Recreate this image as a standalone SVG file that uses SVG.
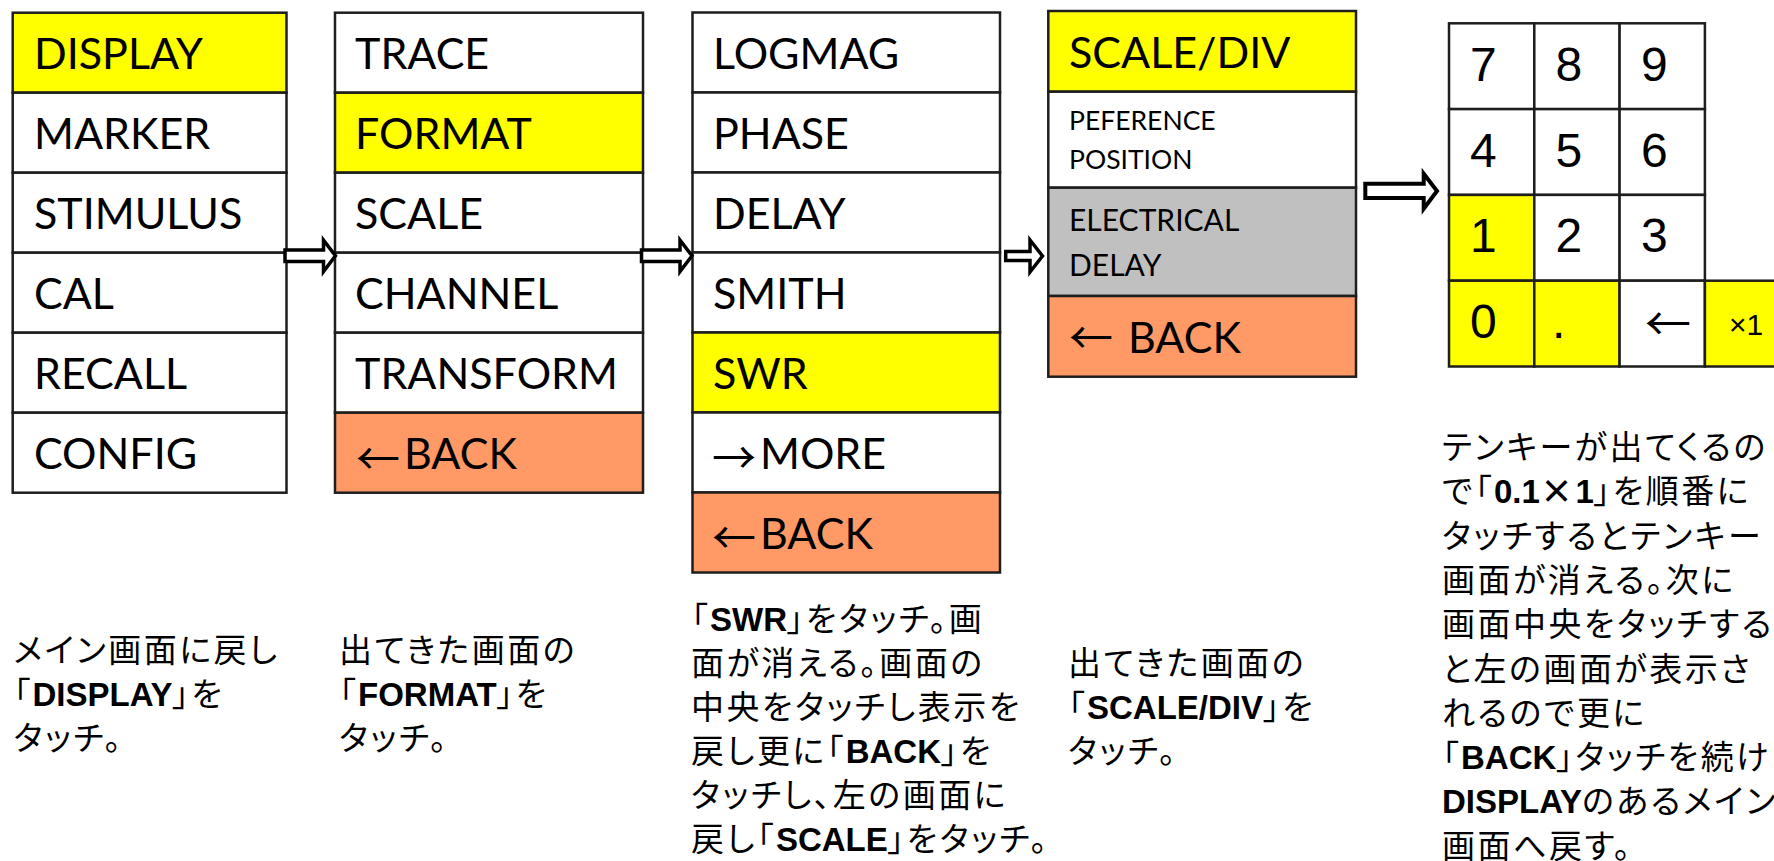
<svg xmlns="http://www.w3.org/2000/svg" width="1774" height="861" viewBox="0 0 1774 861">
<style>
.c{stroke:#1e1e1e;stroke-width:2.5}
.w{fill:#fff}.y{fill:#ffff00}.o{fill:#ff9966}.g{fill:#c0c0c0}
.t{font-family:Lato,"Noto Sans CJK JP",sans-serif;font-size:43px;fill:#000}
.tm{font-size:30px}.ts{font-size:26.5px}
.ar{font-family:"Noto Sans CJK JP",sans-serif;font-size:44px;fill:#000}
.k{font-family:"Liberation Sans",Arial,sans-serif;font-size:48px;fill:#000}
.jp{font-family:"Noto Sans CJK JP",sans-serif;font-size:33px;font-feature-settings:"palt";letter-spacing:2.5px;fill:#000}
.b{font-family:"Liberation Sans",Arial,sans-serif;font-weight:bold;letter-spacing:0}
.arw{fill:#fff;stroke:#000;stroke-width:3.5;stroke-linejoin:miter}
</style>
<rect width="1774" height="861" fill="#fff"/>

<g id="menu-main">
<rect class="c y" x="12.7" y="12.7" width="273.8" height="80"/>
<rect class="c w" x="12.7" y="92.7" width="273.8" height="80"/>
<rect class="c w" x="12.7" y="172.7" width="273.8" height="80"/>
<rect class="c w" x="12.7" y="252.7" width="273.8" height="80"/>
<rect class="c w" x="12.7" y="332.7" width="273.8" height="80"/>
<rect class="c w" x="12.7" y="412.7" width="273.8" height="80"/>
<text class="t" x="34" y="69.3">DISPLAY</text>
<text class="t" x="34" y="149.3">MARKER</text>
<text class="t" x="34" y="229.3">STIMULUS</text>
<text class="t" x="34" y="309.3">CAL</text>
<text class="t" x="34" y="389.3">RECALL</text>
<text class="t" x="34" y="469.3">CONFIG</text>
</g>

<g id="menu-display">
<rect class="c w" x="335" y="12.7" width="308" height="80"/>
<rect class="c y" x="335" y="92.7" width="308" height="80"/>
<rect class="c w" x="335" y="172.7" width="308" height="80"/>
<rect class="c w" x="335" y="252.7" width="308" height="80"/>
<rect class="c w" x="335" y="332.7" width="308" height="80"/>
<rect class="c o" x="335" y="412.7" width="308" height="80"/>
<text class="t" x="355" y="69.3">TRACE</text>
<text class="t" x="355" y="149.3">FORMAT</text>
<text class="t" x="355" y="229.3">SCALE</text>
<text class="t" x="355" y="309.3">CHANNEL</text>
<text class="t" x="355" y="389.3">TRANSFORM</text>
<text class="ar" x="356" y="475">←</text>
<text class="t" x="404" y="469.3">BACK</text>
</g>

<g id="menu-format">
<rect class="c w" x="692.5" y="12.5" width="307.5" height="80"/>
<rect class="c w" x="692.5" y="92.5" width="307.5" height="80"/>
<rect class="c w" x="692.5" y="172.5" width="307.5" height="80"/>
<rect class="c w" x="692.5" y="252.5" width="307.5" height="80"/>
<rect class="c y" x="692.5" y="332.5" width="307.5" height="80"/>
<rect class="c w" x="692.5" y="412.5" width="307.5" height="80"/>
<rect class="c o" x="692.5" y="492.5" width="307.5" height="80"/>
<text class="t" x="713" y="69.1">LOGMAG</text>
<text class="t" x="713" y="149.1">PHASE</text>
<text class="t" x="713" y="229.1">DELAY</text>
<text class="t" x="713" y="309.1">SMITH</text>
<text class="t" x="713" y="389.1">SWR</text>
<text class="ar" x="712" y="474">→</text>
<text class="t" x="760" y="469.1">MORE</text>
<text class="ar" x="712" y="554">←</text>
<text class="t" x="760" y="549.1">BACK</text>
</g>

<g id="menu-scale">
<rect class="c y" x="1048.3" y="11" width="307.7" height="80.7"/>
<rect class="c w" x="1048.3" y="91.7" width="307.7" height="96"/>
<rect class="c g" x="1048.3" y="187.7" width="307.7" height="108.3"/>
<rect class="c o" x="1048.3" y="296" width="307.7" height="80.7"/>
<text class="t" x="1069" y="68.3">SCALE/DIV</text>
<text class="t ts" x="1069" y="130">PEFERENCE</text>
<text class="t ts" x="1069" y="169.3">POSITION</text>
<text class="t tm" x="1069" y="230.7">ELECTRICAL</text>
<text class="t tm" x="1069" y="276">DELAY</text>
<text class="ar" x="1069" y="354">←</text>
<text class="t" x="1128" y="352.7">BACK</text>
</g>

<g id="keypad">
<rect class="c w" x="1449" y="23.3" width="85.3" height="85.8"/>
<rect class="c w" x="1534.3" y="23.3" width="85.3" height="85.8"/>
<rect class="c w" x="1619.6" y="23.3" width="85.3" height="85.8"/>
<rect class="c w" x="1449" y="109.1" width="85.3" height="85.8"/>
<rect class="c w" x="1534.3" y="109.1" width="85.3" height="85.8"/>
<rect class="c w" x="1619.6" y="109.1" width="85.3" height="85.8"/>
<rect class="c y" x="1449" y="194.9" width="85.3" height="85.8"/>
<rect class="c w" x="1534.3" y="194.9" width="85.3" height="85.8"/>
<rect class="c w" x="1619.6" y="194.9" width="85.3" height="85.8"/>
<rect class="c y" x="1449" y="280.7" width="85.3" height="85.8"/>
<rect class="c y" x="1534.3" y="280.7" width="85.3" height="85.8"/>
<rect class="c w" x="1619.6" y="280.7" width="85.3" height="85.8"/>
<rect class="c y" x="1704.9" y="280.7" width="100" height="85.8"/>
<text class="k" x="1470" y="81">7</text>
<text class="k" x="1555.5" y="81">8</text>
<text class="k" x="1641" y="81">9</text>
<text class="k" x="1470" y="166.7">4</text>
<text class="k" x="1555.5" y="166.7">5</text>
<text class="k" x="1641" y="166.7">6</text>
<text class="k" x="1470" y="252.3">1</text>
<text class="k" x="1555.5" y="252.3">2</text>
<text class="k" x="1641" y="252.3">3</text>
<text class="k" x="1470" y="337.8">0</text>
<text class="k" x="1552" y="337.8">.</text>
<text class="ar" x="1645" y="340" style="font-size:46px">←</text>
<text class="k" x="1729" y="335" style="font-size:30px">×1</text>
</g>

<g id="connectors">
<polygon class="arw" points="285,250.1 323.5,250.1 323.5,240.1 335.5,255.8 323.5,271.5 323.5,261.5 285,261.5"/>
<polygon class="arw" points="641.5,250.1 680,250.1 680,240.1 692,255.8 680,271.5 680,261.5 641.5,261.5"/>
<polygon class="arw" points="1005.7,251.6 1030,251.6 1030,240 1042.5,256 1030,272 1030,260.4 1005.7,260.4"/>
<polygon class="arw" style="stroke-width:4" points="1365.3,183.7 1423.7,183.7 1423.7,173.7 1437,191 1423.7,208.7 1423.7,198 1365.3,198"/>
</g>

<g id="note-1">
<text class="jp" x="13.5" y="662">メイン画面に戻し</text>
<text class="jp" x="13.5" y="706">「<tspan class="b">DISPLAY</tspan>」を</text>
<text class="jp" x="13.5" y="750">タッチ。</text>
</g>
<g id="note-2">
<text class="jp" x="339" y="662">出てきた画面の</text>
<text class="jp" x="339" y="706">「<tspan class="b">FORMAT</tspan>」を</text>
<text class="jp" x="339" y="750">タッチ。</text>
</g>
<g id="note-3">
<text class="jp" x="691" y="631">「<tspan class="b">SWR</tspan>」をタッチ。画</text>
<text class="jp" x="691" y="675">面が消える。画面の</text>
<text class="jp" x="691" y="719">中央をタッチし表示を</text>
<text class="jp" x="691" y="763">戻し更に「<tspan class="b">BACK</tspan>」を</text>
<text class="jp" x="691" y="807">タッチし、左の画面に</text>
<text class="jp" x="691" y="851">戻し「<tspan class="b">SCALE</tspan>」をタッチ。</text>
</g>
<g id="note-4">
<text class="jp" x="1068" y="675">出てきた画面の</text>
<text class="jp" x="1068" y="719">「<tspan class="b">SCALE/DIV</tspan>」を</text>
<text class="jp" x="1068" y="763">タッチ。</text>
</g>
<g id="note-5">
<text class="jp" x="1442" y="459">テンキーが出てくるの</text>
<text class="jp" x="1442" y="503.3">で「<tspan class="b">0.1</tspan><tspan font-weight="bold">×</tspan><tspan class="b">1</tspan>」を順番に</text>
<text class="jp" x="1442" y="547.6">タッチするとテンキー</text>
<text class="jp" x="1442" y="591.9">画面が消える。次に</text>
<text class="jp" x="1442" y="636.2">画面中央をタッチする</text>
<text class="jp" x="1442" y="680.5">と左の画面が表示さ</text>
<text class="jp" x="1442" y="724.8">れるので更に</text>
<text class="jp" x="1442" y="769.1">「<tspan class="b">BACK</tspan>」タッチを続け</text>
<text class="jp" x="1442" y="813.4"><tspan class="b">DISPLAY</tspan>のあるメイン</text>
<text class="jp" x="1442" y="857.7">画面へ戻す。</text>
</g>
</svg>
